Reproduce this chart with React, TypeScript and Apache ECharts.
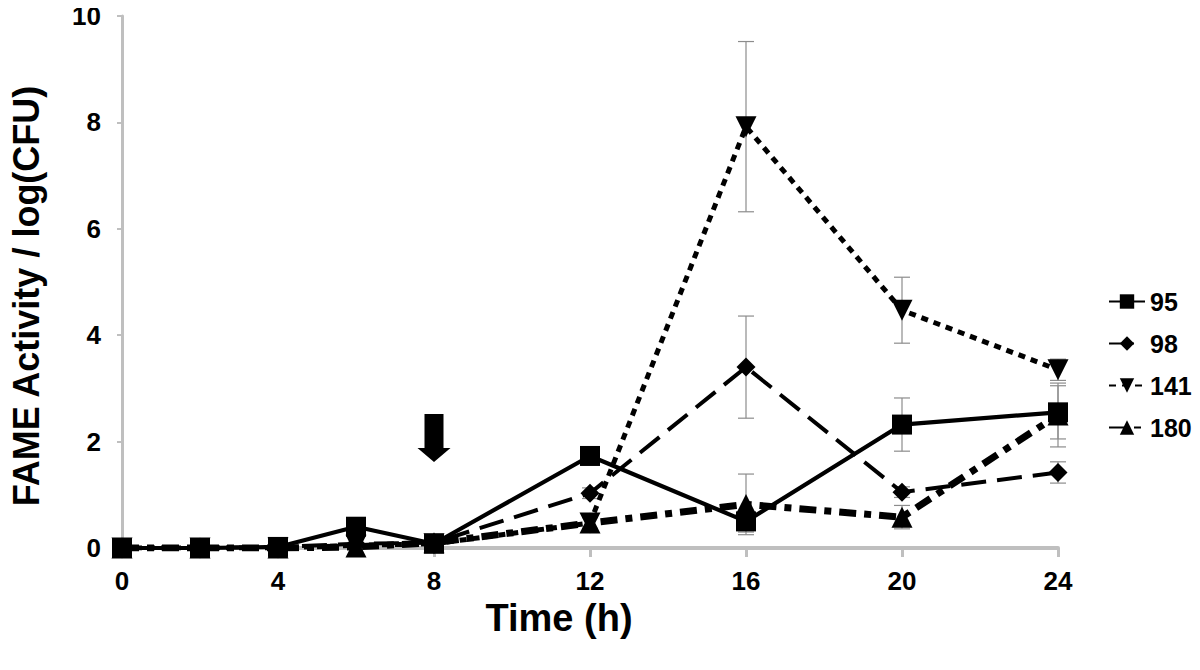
import React, { useEffect, useRef } from "react";
import * as echarts from "echarts";

const times = [0, 2, 4, 6, 8, 12, 16, 20, 24];
const seriesNames = ["95", "98", "141", "180"];
const values95 = [0, 0, 0.02, 0.4, 0.08, 1.73, 0.5, 2.32, 2.55];
const values98 = [0, 0, 0.02, 0.08, 0.1, 1.03, 3.4, 1.05, 1.42];
const values141 = [0, 0, 0, 0.05, 0.08, 0.47, 7.92, 4.47, 3.35];
const values180 = [0, 0, 0, 0.02, 0.1, 0.47, 0.82, 0.58, 2.5];
const err95 = [0, 0, 0, 0, 0, 0.1, 0.2, 0.5, 0.5];
const err98 = [0, 0, 0, 0, 0, 0.1, 0.96, 0.1, 0.2];
const err141 = [0, 0, 0, 0, 0, 0.1, 1.6, 0.62, 0.2];
const err180 = [0, 0, 0, 0, 0, 0.17, 0.57, 0.22, 0.6];
const xTicks = { min: 0, max: 24, interval: 4 };
const yTicks = { min: 0, max: 10, interval: 2 };
const arrowAt = [8, 2.07];

const FONT = "'Liberation Sans', Arial, Helvetica, sans-serif";

export default function App() {
  const ref = useRef<HTMLDivElement>(null);
  useEffect(() => {
    if (!ref.current) return;
    const chart = echarts.init(ref.current, undefined, { renderer: "svg" });
    const allVals = [values95, values98, values141, values180];
    const allErrs = [err95, err98, err141, err180];
    const styles = [
      { type: "solid" as any, width: 4.2, symbol: "rect", size: 20, rotate: 0, z: 6 },
      { type: [25, 11] as any, width: 4, symbol: "diamond", size: 19, rotate: 0, z: 5 },
      { type: [7, 6] as any, width: 5, symbol: "triangle", size: 21, rotate: 180, z: 4 },
      { type: [17, 8, 7, 8] as any, width: 7, symbol: "triangle", size: 21, rotate: 0, z: 3 },
    ];
    const errData: number[][] = [];
    allVals.forEach((vals, si) => {
      vals.forEach((v, i) => {
        const e = allErrs[si][i];
        if (e > 0) errData.push([times[i], v - e, v + e]);
      });
    });
    const lineSeries = seriesNames.map((name, si) => ({
      name,
      type: "line",
      z: styles[si].z,
      data: times.map((t, i) => [t, allVals[si][i]]),
      symbol: styles[si].symbol,
      symbolSize: styles[si].size,
      symbolRotate: styles[si].rotate,
      lineStyle: { color: "#000", width: styles[si].width, type: styles[si].type },
      itemStyle: { color: "#000", borderWidth: 0 },
      markPoint:
        si === 0
          ? {
              symbol: "path://M7,0 L26,0 L26,34 L33,34 L16.5,48 L0,34 L7,34 Z",
              symbolSize: [33, 48],
              label: { show: false },
              itemStyle: { color: "#000" },
              data: [{ coord: arrowAt }],
            }
          : undefined,
    }));
    chart.setOption({
      animation: false,
      backgroundColor: "#fff",
      grid: { left: 120, right: 142, top: 16, bottom: 122 },
      legend: {
        orient: "vertical",
        left: 1103,
        top: 284,
        itemWidth: 36,
        itemHeight: 18,
        itemGap: 17,
        data: seriesNames,
        textStyle: { fontFamily: FONT, fontWeight: "bold", fontSize: 25, color: "#000" },
      },
      xAxis: {
        type: "value",
        min: xTicks.min,
        max: xTicks.max,
        interval: xTicks.interval,
        name: "Time (h)",
        nameLocation: "middle",
        nameGap: 39,
        nameTextStyle: {
          fontFamily: FONT,
          fontWeight: "bold",
          fontSize: 38,
          color: "#000",
          padding: [0, 62, 0, 0],
        },
        splitLine: { show: false },
        axisLine: { lineStyle: { color: "#bfbfbf", width: 4 } },
        axisTick: { show: true, length: 9, lineStyle: { color: "#bfbfbf", width: 3 } },
        axisLabel: { margin: 20, fontFamily: FONT, fontWeight: "bold", fontSize: 26, color: "#000" },
      },
      yAxis: {
        type: "value",
        min: yTicks.min,
        max: yTicks.max,
        interval: yTicks.interval,
        name: "FAME Activity / log(CFU)",
        nameLocation: "middle",
        nameGap: 78,
        nameTextStyle: {
          fontFamily: FONT,
          fontWeight: "bold",
          fontSize: 36,
          color: "#000",
          padding: [0, 28, 0, 0],
        },
        splitLine: { show: false },
        axisLine: { show: true, lineStyle: { color: "#bfbfbf", width: 3 } },
        axisTick: { show: true, length: 5, lineStyle: { color: "#bfbfbf", width: 2 } },
        axisLabel: { margin: 21, fontFamily: FONT, fontWeight: "bold", fontSize: 26, color: "#000" },
      },
      series: [
        {
          name: "err",
          type: "custom",
          z: 2,
          data: errData,
          renderItem: (params: any, api: any) => {
            const x = api.value(0);
            const top = api.coord([x, api.value(2)]);
            const bot = api.coord([x, api.value(1)]);
            const hw = 8;
            const style = { stroke: "#8c8c8c", lineWidth: 1.2 };
            return {
              type: "group",
              children: [
                { type: "line", shape: { x1: top[0], y1: top[1], x2: bot[0], y2: bot[1] }, style },
                { type: "line", shape: { x1: top[0] - hw, y1: top[1], x2: top[0] + hw, y2: top[1] }, style },
                { type: "line", shape: { x1: bot[0] - hw, y1: bot[1], x2: bot[0] + hw, y2: bot[1] }, style },
              ],
            };
          },
        },
        ...lineSeries,
      ],
    });
    return () => chart.dispose();
  }, []);
  return <div ref={ref} style={{ width: 1200, height: 670, margin: -8 }} />;
}
